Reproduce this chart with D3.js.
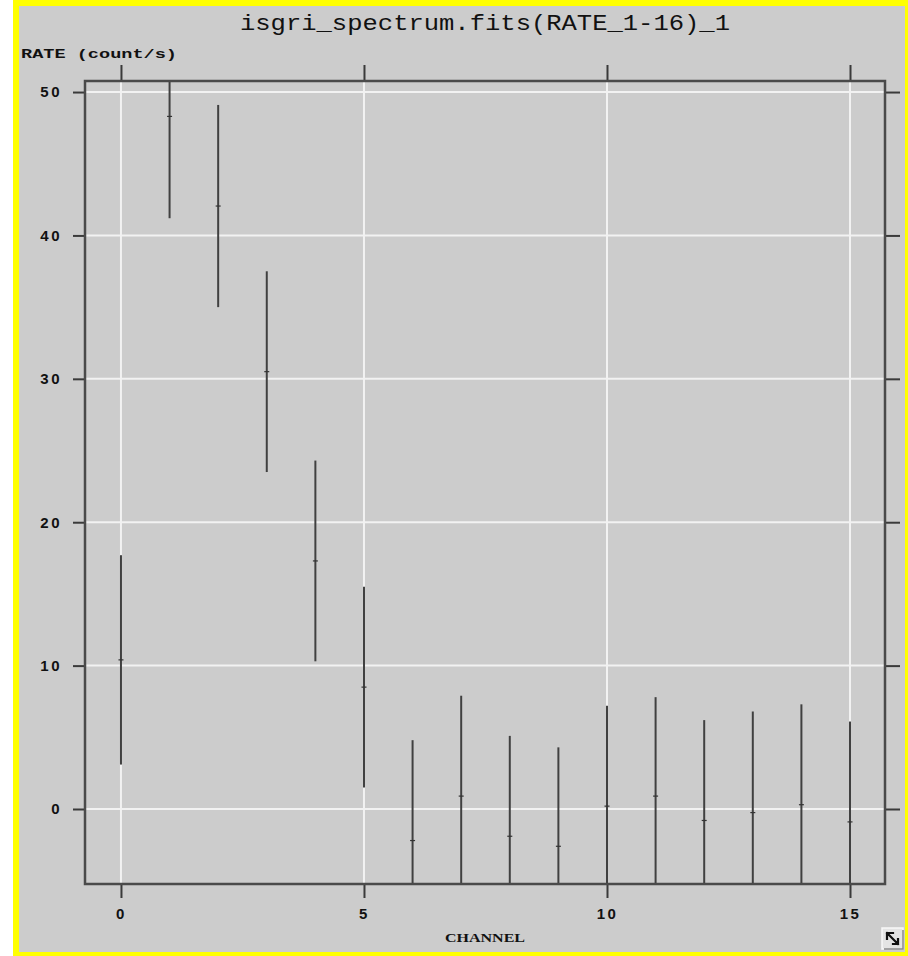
<!DOCTYPE html>
<html>
<head>
<meta charset="utf-8">
<script src="https://cdn.jsdelivr.net/npm/d3@7"></script>
<style>
  html, body { margin: 0; padding: 0; background: #ffffff; }
  svg { display: block; }
</style>
</head>
<body>
<svg id="chart" width="908" height="956"></svg>
<script>
// Spectrum data: channel number, measured rate and its 1-sigma error
const channels = [0, 1, 2, 3, 4, 5, 6, 7, 8, 9, 10, 11, 12, 13, 14, 15];
const rate     = [10.4, 48.3, 42.05, 30.5, 17.3, 8.5, -2.2, 0.9, -1.9, -2.6, 0.2, 0.9, -0.8, -0.25, 0.3, -0.9];
const rateErr  = [7.3, 7.1, 7.05, 7.0, 7.0, 7.0, 7.0, 7.0, 7.0, 6.9, 7.0, 6.9, 7.0, 7.05, 7.0, 7.0];

const xTicks = [0, 5, 10, 15];
const yTicks = [0, 10, 20, 30, 40, 50];

const titleText = "isgri_spectrum.fits(RATE_1-16)_1";
const yLabel = "RATE  (count/s)";
const xLabel = "CHANNEL";

const svg = d3.select("#chart");

// Window frame and panel background
svg.append("rect").attr("x", 13).attr("y", 0).attr("width", 895).attr("height", 956).attr("fill", "#ffff00");
svg.append("rect").attr("x", 19).attr("y", 6).attr("width", 886).attr("height", 946).attr("fill", "#cccccc");

const plot = { left: 85, right: 885, top: 81, bottom: 884 };

const x = d3.scaleLinear().domain([-0.74, 15.72]).range([plot.left, plot.right]);
const y = d3.scaleLinear().domain([-5.23, 50.77]).range([plot.bottom, plot.top]);

svg.append("defs").append("clipPath").attr("id", "plotClip")
  .append("rect")
  .attr("x", plot.left).attr("y", plot.top)
  .attr("width", plot.right - plot.left).attr("height", plot.bottom - plot.top);

// Grid lines
const grid = svg.append("g").attr("stroke", "#f2f2f2").attr("stroke-width", 2);
grid.selectAll("line.gx").data(xTicks).join("line")
  .attr("class", "gx")
  .attr("x1", d => x(d)).attr("x2", d => x(d))
  .attr("y1", plot.top).attr("y2", plot.bottom);
grid.selectAll("line.gy").data(yTicks).join("line")
  .attr("class", "gy")
  .attr("x1", plot.left).attr("x2", plot.right)
  .attr("y1", d => y(d)).attr("y2", d => y(d));

// Error bars
const bars = svg.append("g").attr("clip-path", "url(#plotClip)");
const pts = channels.map((c, i) => ({ c, v: rate[i], e: rateErr[i] }));
bars.selectAll("line.err").data(pts).join("line")
  .attr("class", "err")
  .attr("x1", d => x(d.c)).attr("x2", d => x(d.c))
  .attr("y1", d => y(d.v + d.e)).attr("y2", d => y(d.v - d.e))
  .attr("stroke", "#404040").attr("stroke-width", 2);
bars.selectAll("line.mid").data(pts).join("line")
  .attr("class", "mid")
  .attr("x1", d => x(d.c) - 2.5).attr("x2", d => x(d.c) + 2.5)
  .attr("y1", d => y(d.v)).attr("y2", d => y(d.v))
  .attr("stroke", "#333333").attr("stroke-width", 1.2);

// Axes
function styleAxis(g) {
  g.select(".domain").remove();
  g.selectAll(".tick line").attr("stroke", "#3a3a3a").attr("stroke-width", 2);
  g.selectAll(".tick text")
    .attr("fill", "#111")
    .attr("font-family", "'Liberation Sans', Arial, sans-serif")
    .attr("font-weight", "bold")
    .attr("font-size", 15)
    .attr("letter-spacing", 2.5);
}

svg.append("g").attr("transform", `translate(${plot.left},0)`)
  .call(d3.axisLeft(y).tickValues(yTicks).tickSize(12).tickPadding(11))
  .call(styleAxis);
svg.append("g").attr("transform", `translate(${plot.right},0)`)
  .call(d3.axisRight(y).tickValues(yTicks).tickSize(15).tickFormat(""))
  .call(styleAxis);
svg.append("g").attr("transform", `translate(0,${plot.bottom})`)
  .call(d3.axisBottom(x).tickValues(xTicks).tickSize(14).tickPadding(10))
  .call(styleAxis);
svg.append("g").attr("transform", `translate(0,${plot.top})`)
  .call(d3.axisTop(x).tickValues(xTicks).tickSize(16).tickFormat(""))
  .call(styleAxis);

// Plot frame
svg.append("rect")
  .attr("x", plot.left).attr("y", plot.top)
  .attr("width", plot.right - plot.left).attr("height", plot.bottom - plot.top)
  .attr("fill", "none").attr("stroke", "#4a4a4a").attr("stroke-width", 2.5);

// Title and axis labels
svg.append("text")
  .attr("x", 485).attr("y", 30)
  .attr("text-anchor", "middle")
  .attr("font-family", "'Liberation Mono', 'DejaVu Sans Mono', monospace")
  .attr("font-size", 22)
  .attr("fill", "#111")
  .attr("textLength", 490).attr("lengthAdjust", "spacingAndGlyphs")
  .text(titleText);

svg.append("text")
  .attr("x", 21).attr("y", 58)
  .attr("font-family", "'Liberation Mono', 'DejaVu Sans Mono', monospace")
  .attr("font-size", 13)
  .attr("font-weight", "bold")
  .attr("fill", "#111")
  .attr("textLength", 156).attr("lengthAdjust", "spacingAndGlyphs")
  .text(yLabel);

svg.append("text")
  .attr("x", 485).attr("y", 942)
  .attr("text-anchor", "middle")
  .attr("font-family", "'Liberation Serif', 'DejaVu Serif', serif")
  .attr("font-size", 12)
  .attr("font-weight", "bold")
  .attr("fill", "#111")
  .attr("textLength", 80).attr("lengthAdjust", "spacingAndGlyphs")
  .text(xLabel);

// Resize handle in the lower-right corner
const handle = svg.append("g").attr("transform", "translate(882,928)");
handle.append("rect").attr("x", 0).attr("y", 0).attr("width", 21).attr("height", 21)
  .attr("fill", "#e4e4e4").attr("stroke", "#f8f8f8").attr("stroke-width", 1.5);
handle.append("path").attr("d", "M2,21 L21,21 L21,2").attr("fill", "none").attr("stroke", "#888").attr("stroke-width", 1.5);
handle.append("path").attr("d", "M5,5 L16,16 M5,5 L5,11 M5,5 L11,5 M16,16 L11,16 M16,16 L16,11")
  .attr("fill", "none").attr("stroke", "#111").attr("stroke-width", 2.2).attr("stroke-linecap", "square");
</script>
</body>
</html>
